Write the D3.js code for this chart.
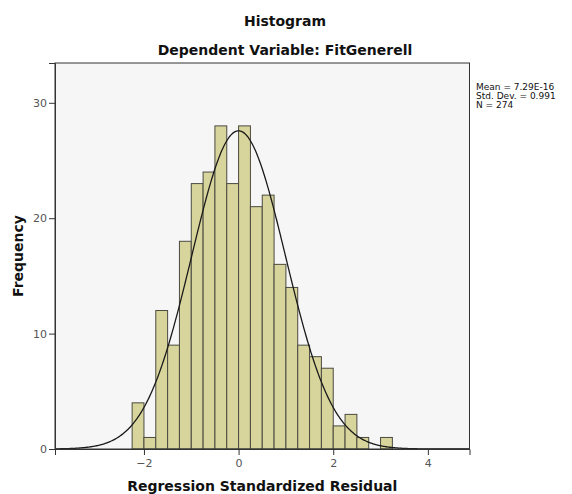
<!DOCTYPE html>
<html>
<head>
<meta charset="utf-8">
<script src="https://cdn.jsdelivr.net/npm/d3@7"></script>
<style>
  body { margin: 0; background: #fff; }
  text { font-family: "DejaVu Sans", sans-serif; }
</style>
</head>
<body>
<div id="hist"></div>
<script>
// Histogram of regression residuals

// Data
var binStarts = [-2.25, -2.0, -1.75, -1.5, -1.25, -1.0, -0.75, -0.5, -0.25, 0, 0.25, 0.5, 0.75, 1.0, 1.25, 1.5, 1.75, 2.0, 2.25, 2.5, 2.75, 3.0]
var counts = [4, 1, 12, 9, 18, 23, 24, 28, 23, 28, 21, 22, 16, 14, 9, 8, 7, 2, 3, 1, 0, 1]
var binWidth = 0.25
var xTicks = [-2, 0, 2, 4]
var yTicks = [0, 10, 20, 30]
var stats = ['Mean = 7.29E-16', 'Std. Dev. = 0.991', 'N = 274']
var mean = 7.29e-16
var sd = 0.991
var n = 274

var width = 572
var height = 494
var plot = { left: 55, right: 469.5, top: 63, bottom: 449 }

var svg = d3.select('#hist')
  .append('svg')
    .attr('width', width)
    .attr('height', height)

var x = d3.scaleLinear().domain([-3.88, 4.88]).range([plot.left, plot.right])
var y = d3.scaleLinear().domain([0, 33.45]).range([plot.bottom, plot.top])

// plot background
svg.append('rect')
  .attr('x', plot.left)
  .attr('y', plot.top)
  .attr('width', plot.right - plot.left)
  .attr('height', plot.bottom - plot.top)
  .attr('fill', '#f6f6f6')

var bins = binStarts.map((b, i) => ({ x0: b, x1: b + binWidth, count: counts[i] }))

svg.selectAll('rect.bar')
  .data(bins.filter(d => d.count > 0))
  .enter()
  .append('rect')
    .attr('class', 'bar')
    .attr('x', d => x(d.x0))
    .attr('y', d => y(d.count))
    .attr('width', d => x(d.x1) - x(d.x0))
    .attr('height', d => y(0) - y(d.count))
    .attr('fill', '#d8d59c')
    .attr('stroke', '#4a4a40')
    .attr('stroke-width', 1)

// normal curve
var curvePts = d3.range(x.domain()[0], x.domain()[1] + 0.001, 0.02)
var line = d3.line()
  .x(d => x(d))
  .y(d => y(n * binWidth / (sd * Math.sqrt(2 * Math.PI)) * Math.exp(-0.5 * Math.pow((d - mean) / sd, 2))))

svg.append('path')
  .datum(curvePts)
  .attr('d', line)
  .attr('fill', 'none')
  .attr('stroke', '#1a1a1a')
  .attr('stroke-width', 1.3)

// frame
svg.append('rect')
  .attr('x', plot.left)
  .attr('y', plot.top)
  .attr('width', plot.right - plot.left)
  .attr('height', plot.bottom - plot.top)
  .attr('fill', 'none')
  .attr('stroke', '#333')
  .attr('stroke-width', 1)

// axes
var xAxis = svg.append('g')
  .attr('transform', `translate(0,${plot.bottom})`)
  .call(d3.axisBottom(x).tickValues(xTicks).tickSize(6).tickPadding(4).tickFormat(d3.format('d')))
var yAxis = svg.append('g')
  .attr('transform', `translate(${plot.left},0)`)
  .call(d3.axisLeft(y).tickValues(yTicks).tickSize(6).tickPadding(2).tickFormat(d3.format('d')))

;[xAxis, yAxis].forEach(g => {
  g.select('.domain').attr('stroke', '#333')
  g.selectAll('.tick line').attr('stroke', '#333')
  g.selectAll('.tick text')
    .attr('fill', '#555')
    .style('font-family', '"DejaVu Sans", sans-serif')
    .style('font-size', '11px')
})

// titles
svg.append('text')
  .attr('x', 285)
  .attr('y', 26)
  .attr('text-anchor', 'middle')
  .style('font-weight', 'bold')
  .style('font-size', '14px')
  .attr('fill', '#111')
  .text('Histogram')

svg.append('text')
  .attr('x', 285)
  .attr('y', 55)
  .attr('text-anchor', 'middle')
  .style('font-weight', 'bold')
  .style('font-size', '14px')
  .attr('fill', '#111')
  .text('Dependent Variable: FitGenerell')

svg.append('text')
  .attr('x', (plot.left + plot.right) / 2)
  .attr('y', 491)
  .attr('text-anchor', 'middle')
  .style('font-weight', 'bold')
  .style('font-size', '14px')
  .attr('fill', '#111')
  .text('Regression Standardized Residual')

svg.append('text')
  .attr('transform', 'translate(23,256) rotate(-90)')
  .attr('text-anchor', 'middle')
  .style('font-weight', 'bold')
  .style('font-size', '14px')
  .attr('fill', '#111')
  .text('Frequency')

// stats box
svg.selectAll('text.stat')
  .data(stats)
  .enter()
  .append('text')
    .attr('class', 'stat')
    .attr('x', 476)
    .attr('y', (d, i) => 90 + i * 9)
    .style('font-size', '9px')
    .attr('fill', '#111')
    .text(d => d)
</script>
</body>
</html>
